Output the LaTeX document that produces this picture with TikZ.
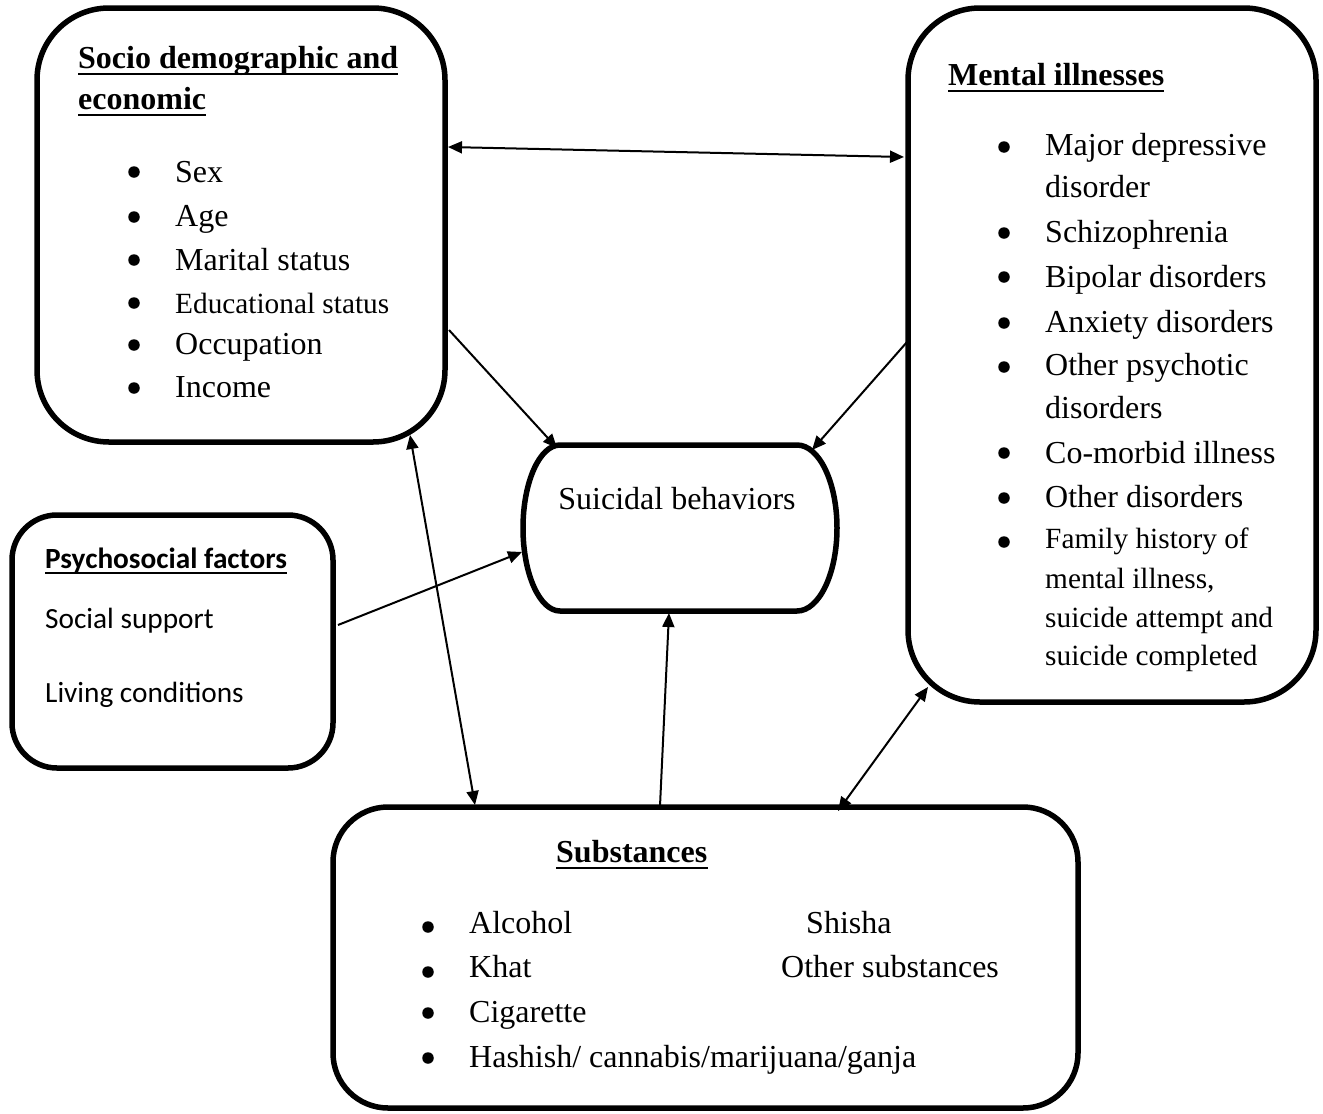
\documentclass[tikz,border=0pt]{standalone}
\usepackage{fontspec}
\setmainfont{Liberation Serif}
\newfontfamily\calib{Carlito}
\usetikzlibrary{arrows.meta}
\begin{document}
\begin{tikzpicture}[x=1pt,y=-1pt,
 boxline/.style={draw, line width=5.5pt, inner sep=0pt},
 conn/.style={line width=2pt, -{Triangle[length=14pt,width=12pt]}},
 dconn/.style={line width=2pt, {Triangle[length=14pt,width=12pt]}-{Triangle[length=14pt,width=12pt]}},
 tx/.style={anchor=base west, inner sep=0pt, font=\fontsize{32}{38}\selectfont},
 txs/.style={anchor=base west, inner sep=0pt, font=\fontsize{29.3}{35}\selectfont},
 ttl/.style={anchor=base west, inner sep=0pt, font=\fontsize{32}{38}\selectfont\bfseries},
 cal/.style={anchor=base west, inner sep=0pt, font=\calib\fontsize{29.3}{35}\selectfont},
 calb/.style={cal, font=\calib\fontsize{29.3}{35}\selectfont\bfseries},
 ul/.style={line width=2.6pt},
 bul/.style={circle, fill=black, inner sep=0pt, minimum size=11.5pt},
]
\useasboundingbox (0,0) rectangle (1323,1114);

% ---------- boxes ----------
\node[boxline, rounded corners=72pt, minimum width=408pt, minimum height=434pt] (socio) at (241,225) {};
\node[boxline, rounded corners=72pt, minimum width=408pt, minimum height=694pt] (mental) at (1112,355) {};
\node[boxline, rounded corners=45pt, minimum width=321pt, minimum height=253pt] (psych) at (172.5,641.5) {};
\node[boxline, rounded corners=55pt, minimum width=745pt, minimum height=301pt] (subst) at (705.5,957.5) {};
\node[inner sep=0pt, minimum width=317pt, minimum height=166pt] (sb) at (678.5,528) {};
\draw[line width=5.5pt] (560,611) -- (797,611)
  arc[start angle=-90, end angle=90, x radius=40pt, y radius=83pt]
  -- (560,445)
  arc[start angle=90, end angle=270, x radius=37pt, y radius=83pt] -- cycle;

% ---------- socio demographic ----------
\node[ttl] (st1) at (78,68) {Socio demographic and\ };
\node[ttl] (st2) at (78,109) {economic};
\draw[ul] ([yshift=-6pt]st1.base west) -- ([yshift=-6pt]st1.base east);
\draw[ul] ([yshift=-6pt]st2.base west) -- ([yshift=-6pt]st2.base east);
\node[bul] (sb1) at (134,172) {};
\node[bul] (sb2) at (134,217) {};
\node[bul] (sb3) at (134,260) {};
\node[bul] (sb4) at (134,303) {};
\node[bul] (sb5) at (134,345) {};
\node[bul] (sb6) at (134,388) {};
\node[tx] (s1) at (175,182) {Sex};
\node[tx] (s2) at (175,226) {Age};
\node[tx] (s3) at (175,270) {Marital status};
\node[txs] (s4) at (175,313) {Educational status};
\node[tx] (s5) at (175,354) {Occupation};
\node[tx] (s6) at (175,397) {Income};

% ---------- mental illnesses ----------
\node[ttl] (mt) at (948,85) {Mental illnesses};
\draw[ul] ([yshift=-6pt]mt.base west) -- ([yshift=-6pt]mt.base east);
\node[bul] (mb1) at (1004,147) {};
\node[bul] (mb2) at (1004,233) {};
\node[bul] (mb3) at (1004,277) {};
\node[bul] (mb4) at (1004,323) {};
\node[bul] (mb5) at (1004,367) {};
\node[bul] (mb6) at (1004,453) {};
\node[bul] (mb7) at (1004,498) {};
\node[bul] (mb8) at (1004,542) {};
\node[tx] (m1) at (1045,155) {Major depressive};
\node[tx] (m2) at (1045,197) {disorder};
\node[tx] (m3) at (1045,242) {Schizophrenia};
\node[tx] (m4) at (1045,287) {Bipolar disorders};
\node[tx] (m5) at (1045,332) {Anxiety disorders};
\node[tx] (m6) at (1045,375) {Other psychotic};
\node[tx] (m7) at (1045,418) {disorders};
\node[tx] (m8) at (1045,463) {Co-morbid illness};
\node[tx] (m9) at (1045,507) {Other disorders};
\node[txs] (m10) at (1045,548) {Family history of};
\node[txs] (m11) at (1045,588) {mental illness,};
\node[txs] (m12) at (1045,627) {suicide attempt and};
\node[txs] (m13) at (1045,665) {suicide completed};

% ---------- psychosocial ----------
\node[calb] (pt) at (45,568) {Psychosocial factors};
\draw[line width=2pt] ([yshift=-5pt]pt.base west) -- ([yshift=-5pt]pt.base east);
\node[cal] (p1) at (45,628) {Social support};
\node[cal] (p2) at (45,702) {Living conditions};

% ---------- suicidal behaviors ----------
\node[tx, anchor=base] (sbt) at (677,509) {Suicidal behaviors};

% ---------- substances ----------
\node[ttl] (subt) at (556,862) {Substances};
\draw[ul] ([yshift=-6pt]subt.base west) -- ([yshift=-6pt]subt.base east);
\node[bul] (ub1) at (428,927) {};
\node[bul] (ub2) at (428,972) {};
\node[bul] (ub3) at (428,1013) {};
\node[bul] (ub4) at (428,1058) {};
\node[tx] (u1) at (469,933) {Alcohol};
\node[tx] (u2) at (469,977) {Khat};
\node[tx] (u3) at (469,1022) {Cigarette};
\node[tx] (u4) at (469,1067) {Hashish/ cannabis/marijuana/ganja};
\node[tx] (u5) at (806,933) {Shisha};
\node[tx] (u6) at (781,977) {Other substances};

% ---------- connector end points on box borders ----------
\coordinate (a1s) at (448,147);
\coordinate (a1e) at (904,157);
\coordinate (a2s) at (449,330);
\coordinate (a2e) at (557,448);
\coordinate (a3s) at (907,342);
\coordinate (a3e) at (812,450);
\coordinate (a4s) at (338,625);
\coordinate (a4e) at (522,552);
\coordinate (a5s) at (410,435);
\coordinate (a5e) at (475,805);
\coordinate (a6s) at (660,806);
\coordinate (a6e) at (669,613);
\coordinate (a7s) at (838,811);
\coordinate (a7e) at (928,687);

% ---------- connectors ----------
\draw[dconn] (a1s) -- (a1e);
\draw[conn] (a2s) -- (a2e);
\draw[conn] (a3s) -- (a3e);
\draw[conn] (a4s) -- (a4e);
\draw[dconn] (a5s) -- (a5e);
\draw[conn] (a6s) -- (a6e);
\draw[dconn] (a7s) -- (a7e);
\end{tikzpicture}
\end{document}
